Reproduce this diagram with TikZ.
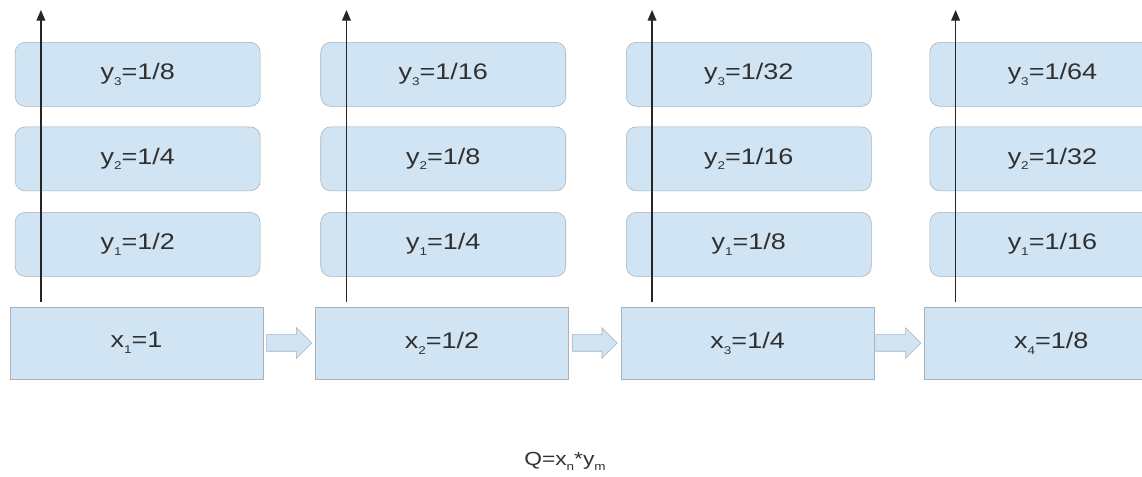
\documentclass[tikz,border=0pt]{standalone}
\usepackage{fontspec}
\setmainfont[FakeStretch=1.2]{Liberation Sans}
\usepackage{xcolor}
\definecolor{cellBlue}{HTML}{D0E4F3}
\definecolor{cellEdge}{HTML}{A8B2BC}
\definecolor{inkGray}{HTML}{303030}
\usepackage{tikz}
\usetikzlibrary{arrows.meta,positioning,calc,shapes.arrows}
\newcommand{\lo}[1]{\raisebox{-0.5ex}{\fontsize{8}{8}\selectfont #1}}

\begin{document}
\begin{tikzpicture}[font=\fontsize{16}{19}\selectfont,>={Triangle[length=0.27cm,width=0.22cm]},
  xbox/.style={draw=cellEdge,fill=cellBlue,text=inkGray,minimum width=6.325cm,minimum height=1.8cm},
  ybox/.style={draw=cellEdge,fill=cellBlue,text=inkGray,rounded corners=0.25cm,minimum width=6.125cm,minimum height=1.6cm},
  fatarrow/.style={single arrow,draw=cellEdge,fill=cellBlue,minimum height=1.125cm,minimum width=0.75cm,
                   text height=0.4cm,text depth=0pt,text width=0pt,single arrow head extend=0.175cm,inner sep=0pt},
  riser/.style={->,line width=1pt,draw=black!85}]
  \useasboundingbox (0,0) rectangle (28.55,11.925);
  % bottom row
  \node[xbox] (x1) at (3.4125,3.35) {x\lo{1}=1};
  \node[xbox,right=1.3cm of x1] (x2) {x\lo{2}=1/2};
  \node[xbox,right=1.3cm of x2] (x3) {x\lo{3}=1/4};
  \node[xbox,right=1.25cm of x3] (x4) {x\lo{4}=1/8};
  % columns of y values
  \foreach \c/\a/\b/\d in {1/2/4/8,2/4/8/16,3/8/16/32,4/16/32/64}{
    \node[ybox,above=0.75cm of x\c,xshift=0.03cm] (ya\c) {y\lo{1}=1/\a};
    \node[ybox,above=0.525cm of ya\c] (yb\c) {y\lo{2}=1/\b};
    \node[ybox,above=0.5cm of yb\c] (yc\c) {y\lo{3}=1/\d};
    \coordinate (r\c) at ($(x\c.north west)+(0.78,0.12)$);
    \coordinate (t\c) at ($(r\c)+(0,7.3)$);
    \draw[riser] (r\c) -- (t\c);
  }
  % steps between the x boxes
  \foreach \p/\n in {1/2,2/3,3/4}
    \node[fatarrow,anchor=tip] (s\p) at ($(x\n.west)+(-0.08,0)$) {};
  \node[text=inkGray,font=\fontsize{13.5}{16}\selectfont] (q) at (14.125,0.4) {Q=x\lo{n}*y\lo{m}};
\end{tikzpicture}
\end{document}
